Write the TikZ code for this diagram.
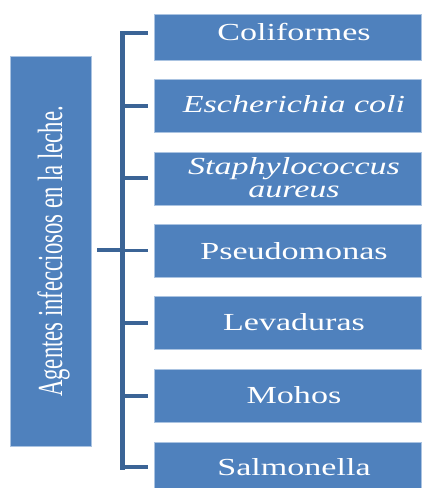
\documentclass[tikz,border=0pt]{standalone}
\usepackage{fontspec}
\setmainfont{Liberation Serif}
\usepackage{graphicx}
\definecolor{boxblue}{RGB}{79,129,189}
\definecolor{edgeblue}{RGB}{170,195,225}
\definecolor{linkblue}{RGB}{59,100,150}
\begin{document}
\begin{tikzpicture}[x=1pt,y=-1pt,
  box/.style={fill=boxblue, draw=edgeblue, line width=0.7pt, minimum width=267pt, inner sep=0pt},
  lbl/.style={text=white, anchor=base, inner sep=0pt, font=\fontsize{24.5}{23.7}\selectfont},
  spine/.style={draw=linkblue, line width=5pt, line cap=rect},
  branch/.style={draw=linkblue, line width=3.5pt, shorten >=6pt},
  feed/.style={draw=linkblue, line width=4pt, shorten <=6pt},
]
\clip (0,0) rectangle (423,488);
\fill[white] (0,0) rectangle (423,488);
% left box
\node[box, minimum width=81pt, minimum height=390pt] (agentes) at (50.5,251) {};
\node[rotate=90, anchor=base, text=white, inner sep=0pt, font=\fontsize{22.7}{27}\selectfont] (agtext) at (62,251.5) {\scalebox{1}[1.55]{Agentes infecciosos en la leche.}};
% right boxes
\node[box, minimum height=46pt] (b1) at (287.5,37) {};
\node[box, minimum height=53pt] (b2) at (287.5,105.5) {};
\node[box, minimum height=53pt] (b3) at (287.5,178.5) {};
\node[box, minimum height=53pt] (b4) at (287.5,250.5) {};
\node[box, minimum height=53pt] (b5) at (287.5,323) {};
\node[box, minimum height=53pt] (b6) at (287.5,396) {};
\node[box, minimum height=51pt] (b7) at (287.5,467.5) {};
% labels
\node[lbl] (t1) at (294,40.5) {\scalebox{1.39}[1]{Coliformes}};
\node[lbl] (t2) at (294,112.3) {\scalebox{1.39}[1]{\itshape Escherichia coli}};
\node[lbl] (t3) at (294,174) {\scalebox{1.39}[1]{\itshape\begin{tabular}[t]{@{}c@{}}Staphylococcus\\aureus\end{tabular}}};
\node[lbl] (t4) at (294,259) {\scalebox{1.39}[1]{Pseudomonas}};
\node[lbl] (t5) at (294,330.7) {\scalebox{1.39}[1]{Levaduras}};
\node[lbl] (t6) at (294,403.3) {\scalebox{1.39}[1]{Mohos}};
\node[lbl] (t7) at (294,475) {\scalebox{1.39}[1]{Salmonella}};
% bracket
\coordinate (s1) at (122,33);
\coordinate (s2) at (122,106);
\coordinate (s3) at (122,178);
\coordinate (s4) at (122,250.3);
\coordinate (s5) at (122,323);
\coordinate (s6) at (122,396);
\coordinate (s7) at (122,467);
\draw[spine] (s1) -- (s7);
\draw[branch] (s1) -- (s1 -| b1.west);
\draw[branch] (s2) -- (s2 -| b2.west);
\draw[branch] (s3) -- (s3 -| b3.west);
\draw[branch] (s4) -- (s4 -| b4.west);
\draw[branch] (s5) -- (s5 -| b5.west);
\draw[branch] (s6) -- (s6 -| b6.west);
\draw[branch] (s7) -- (s7 -| b7.west);
\draw[feed] (agentes.east |- s4) -- (s4);
\end{tikzpicture}
\end{document}
